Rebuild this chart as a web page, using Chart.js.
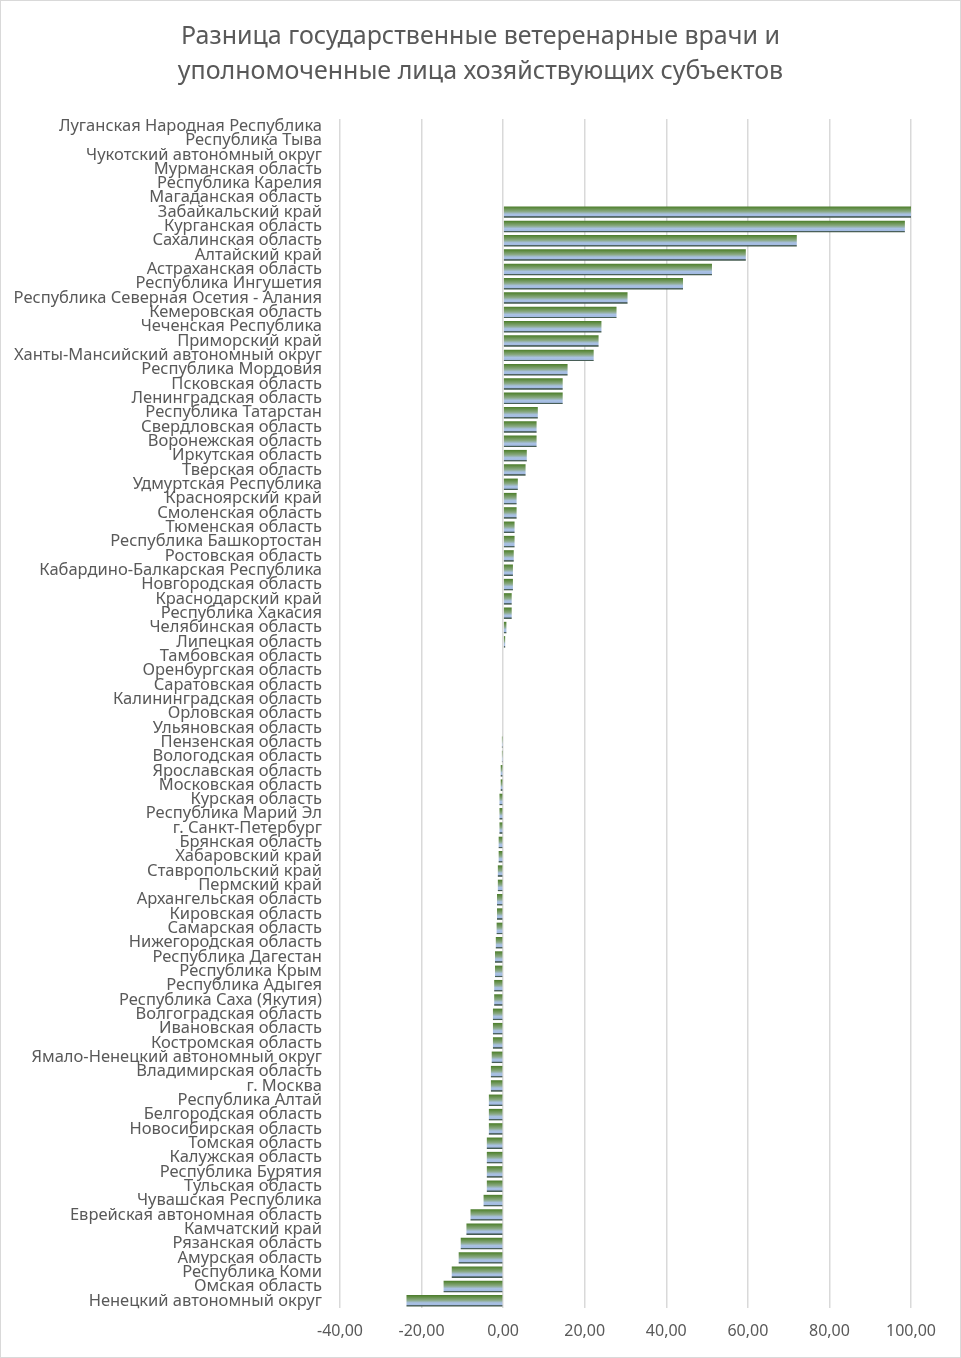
<!DOCTYPE html>
<html><head><meta charset="utf-8">
<script src="https://cdn.jsdelivr.net/npm/chart.js@4/dist/chart.umd.min.js"></script>
<style>
html,body{margin:0;padding:0;background:#fff;}
#wrap{width:961px;height:1358px;box-sizing:border-box;border:1px solid #d9d9d9;position:relative;background:#fff;}
canvas{display:block;}
</style></head><body>
<div id="wrap"><canvas id="c"></canvas></div>
<script>
const titleLines = ['Разница государственные ветеренарные врачи и', 'уполномоченные лица хозяйствующих субъектов'];

const categories = [
 'Луганская Народная Республика','Республика Тыва','Чукотский автономный округ','Мурманская область',
 'Республика Карелия','Магаданская область','Забайкальский край','Курганская область',
 'Сахалинская область','Алтайский край','Астраханская область','Республика Ингушетия',
 'Республика Северная Осетия - Алания','Кемеровская область','Чеченская Республика','Приморский край',
 'Ханты-Мансийский автономный округ','Республика Мордовия','Псковская область','Ленинградская область',
 'Республика Татарстан','Свердловская область','Воронежская область','Иркутская область',
 'Тверская область','Удмуртская Республика','Красноярский край','Смоленская область',
 'Тюменская область','Республика Башкортостан','Ростовская область','Кабардино-Балкарская Республика',
 'Новгородская область','Краснодарский край','Республика Хакасия','Челябинская область',
 'Липецкая область','Тамбовская область','Оренбургская область','Саратовская область',
 'Калининградская область','Орловская область','Ульяновская область','Пензенская область',
 'Вологодская область','Ярославская область','Московская область','Курская область',
 'Республика Марий Эл','г. Санкт-Петербург','Брянская область','Хабаровский край',
 'Ставропольский край','Пермский край','Архангельская область','Кировская область',
 'Самарская область','Нижегородская область','Республика Дагестан','Республика Крым',
 'Республика Адыгея','Республика Саха (Якутия)','Волгоградская область','Ивановская область',
 'Костромская область','Ямало-Ненецкий автономный округ','Владимирская область','г. Москва',
 'Республика Алтай','Белгородская область','Новосибирская область','Томская область',
 'Калужская область','Республика Бурятия','Тульская область','Чувашская Республика',
 'Еврейская автономная область','Камчатский край','Рязанская область','Амурская область',
 'Республика Коми','Омская область','Ненецкий автономный округ'
];

const differences = [
 0, 0, 0, 0,
 0, 0, 100, 98.5,
 72.0, 59.5, 51.2, 44.1,
 30.5, 27.8, 24.1, 23.4,
 22.2, 15.8, 14.6, 14.6,
 8.5, 8.2, 8.2, 5.8,
 5.5, 3.6, 3.3, 3.3,
 2.8, 2.8, 2.6, 2.4,
 2.4, 2.1, 2.1, 0.8,
 0.5, 0, 0, 0,
 0, 0, 0, -0.3,
 -0.3, -0.6, -0.6, -0.9,
 -0.9, -0.9, -1.1, -1.1,
 -1.3, -1.3, -1.5, -1.5,
 -1.6, -1.8, -2.0, -2.0,
 -2.2, -2.2, -2.5, -2.5,
 -2.5, -2.8, -3.0, -3.0,
 -3.5, -3.5, -3.5, -4.0,
 -4.0, -4.0, -4.0, -4.8,
 -8.0, -9.0, -10.4, -10.9,
 -12.6, -14.6, -23.7
];

const tickValues = [-40, -20, 0, 20, 40, 60, 80, 100];
const tickLabels = ['-40,00', '-20,00', '0,00', '20,00', '40,00', '60,00', '80,00', '100,00'];

const BAR_FRAC = 0.8;
const FONT = '"Noto Sans", "Liberation Sans", sans-serif';
const TEXT = '#595959';

function barFill(ctx) {
  const chart = ctx.chart;
  const y = chart.scales && chart.scales.y;
  if (!y || ctx.dataIndex === undefined) return '#7f9f70';
  const c = y.getPixelForValue(ctx.dataIndex);
  const band = Math.abs(y.getPixelForValue(1) - y.getPixelForValue(0));
  if (!Number.isFinite(c) || !Number.isFinite(band) || band <= 0) return '#7f9f70';
  const h = band * BAR_FRAC;
  const g = chart.ctx.createLinearGradient(0, c - h / 2, 0, c + h / 2);
  g.addColorStop(0, '#4a7a2c');
  g.addColorStop(0.12, '#5c8a3e');
  g.addColorStop(0.45, '#8aa985');
  g.addColorStop(0.68, '#a9c1e3');
  g.addColorStop(0.86, '#a3bbe2');
  g.addColorStop(0.88, '#56696f');
  g.addColorStop(1, '#3e5745');
  return g;
}

// Center the title over the whole canvas rather than over the padded layout area.
const centerTitle = {
  id: 'centerTitle',
  afterLayout(chart) {
    const t = chart.titleBlock;
    if (t) { t.left = 0; t.right = chart.width; t.width = chart.width; }
  }
};

new Chart(document.getElementById('c'), {
  type: 'bar',
  data: {
    labels: categories,
    datasets: [{
      data: differences,
      backgroundColor: barFill,
      borderWidth: 0,
      categoryPercentage: 1,
      barPercentage: BAR_FRAC
    }]
  },
  plugins: [centerTitle],
  options: {
    indexAxis: 'y',
    responsive: true,
    maintainAspectRatio: false,
    animation: false,
    layout: { padding: { left: 0, right: 49, top: 0, bottom: 0 } },
    plugins: {
      legend: { display: false },
      tooltip: { enabled: false },
      title: {
        display: true,
        text: titleLines,
        color: TEXT,
        font: { family: FONT, size: 25, weight: 'normal', lineHeight: 1.4 },
        padding: { top: 18.5, bottom: 29.5 }
      }
    },
    scales: {
      x: {
        type: 'linear',
        min: -40,
        max: 100,
        afterBuildTicks: (s) => { s.ticks = tickValues.map(v => ({ value: v })); },
        afterFit: (s) => { s.height = 49; },
        grid: { color: '#d9d9d9', lineWidth: 1.5, drawTicks: false },
        border: { display: false },
        ticks: {
          color: TEXT,
          padding: 14,
          font: { family: FONT, size: 16 },
          maxRotation: 0,
          callback: (v) => { const i = tickValues.indexOf(v); return i >= 0 ? tickLabels[i] : ''; }
        }
      },
      y: {
        type: 'category',
        afterFit: (s) => { s.width = 339; },
        grid: { display: false, drawTicks: false },
        border: { display: false },
        ticks: {
          color: TEXT,
          padding: 18,
          autoSkip: false,
          font: { family: FONT, size: 16.5 }
        }
      }
    }
  }
});
</script>
</body></html>
